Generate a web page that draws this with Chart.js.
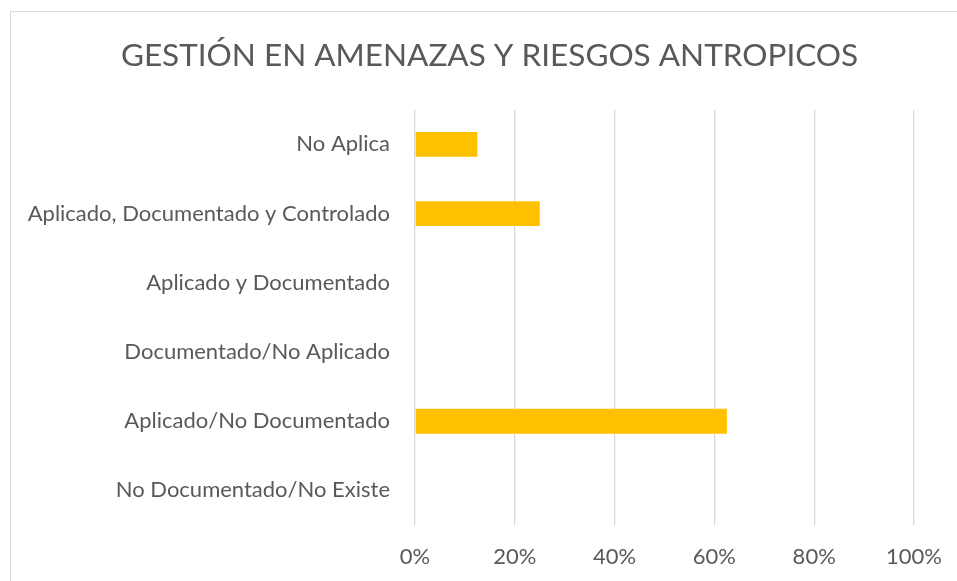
<!DOCTYPE html>
<html>
<head>
<meta charset="utf-8">
<script src="https://cdn.jsdelivr.net/npm/chart.js@4"></script>
<style>
  html, body { margin: 0; padding: 0; background: #fff; overflow: hidden; }
  #frame { position: absolute; left: 10px; top: 11px; width: 1000px; height: 700px; border: 1px solid #d9d9d9; }
  #wrap { position: absolute; left: 0; top: 0; width: 957px; height: 581px; }
</style>
</head>
<body>
<div id="frame"></div>
<div id="wrap"><canvas id="myChart"></canvas></div>
<script>
// categories, top to bottom
const categories = [
  'No Aplica',
  'Aplicado, Documentado y Controlado',
  'Aplicado y Documentado',
  'Documentado/No Aplicado',
  'Aplicado/No Documentado',
  'No Documentado/No Existe'
];
// percent of answers
const values = [12.5, 25, 0, 0, 62.5, 0];
const xTicks = [0, 20, 40, 60, 80, 100];

const textColor = '#595959';
const fontFamily = 'Lato, "Open Sans", sans-serif';

// nudge the title so it is centred like the original (frame starts at x=10, extends off the right edge)
const titleShift = {
  id: 'titleShift',
  afterLayout(chart) {
    if (chart.titleBlock) chart.titleBlock.left = 65;
  }
};

const ctx = document.getElementById('myChart').getContext('2d');
new Chart(ctx, {
  type: 'bar',
  data: {
    labels: categories,
    datasets: [{
      data: values,
      backgroundColor: '#FFC000',
      borderWidth: 0,
      barPercentage: 0.36,
      categoryPercentage: 1
    }]
  },
  options: {
    indexAxis: 'y',
    responsive: true,
    maintainAspectRatio: false,
    animation: false,
    layout: { padding: { left: 0, right: 43, top: 0, bottom: 0 } },
    plugins: {
      legend: { display: false },
      tooltip: { enabled: false },
      title: {
        display: true,
        text: 'GESTIÓN EN AMENAZAS Y RIESGOS ANTROPICOS',
        color: textColor,
        font: { family: fontFamily, size: 31.5, weight: 'normal' },
        padding: { top: 37, bottom: 35 }
      }
    },
    scales: {
      x: {
        min: 0,
        max: 100,
        afterBuildTicks: function(scale) {
          scale.ticks = xTicks.map(v => ({ value: v }));
        },
        afterFit: function(scale) {
          scale.height = 56;
          // let the layout padding decide where the plot ends
          scale.paddingLeft = 0;
          scale.paddingRight = 0;
        },
        ticks: {
          color: textColor,
          font: { family: fontFamily, size: 22 },
          padding: 19,
          callback: function(value) { return value + '%'; }
        },
        grid: { color: '#d9d9d9', lineWidth: 1.3, drawTicks: false },
        border: { display: false }
      },
      y: {
        afterFit: function(scale) { scale.width = 415; },
        ticks: {
          color: textColor,
          font: { family: fontFamily, size: 22 },
          padding: 25
        },
        grid: { display: false, drawTicks: false },
        border: { display: false }
      }
    }
  },
  plugins: [titleShift]
});
</script>
</body>
</html>
